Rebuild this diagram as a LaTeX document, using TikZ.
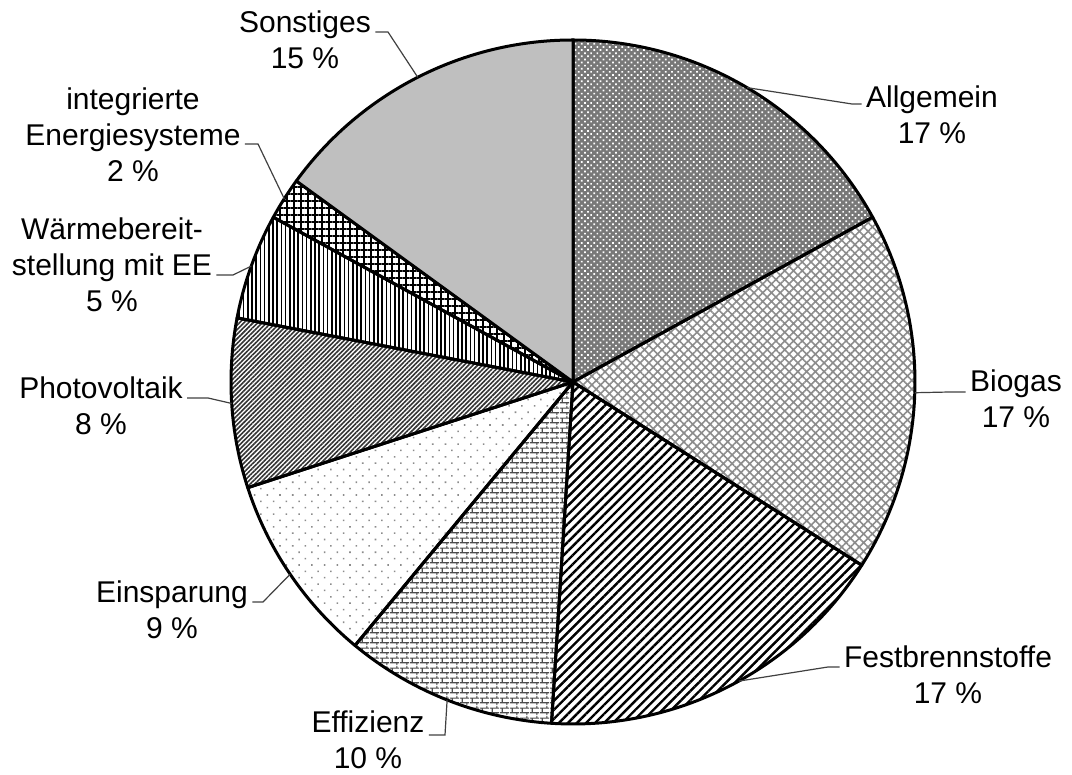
\documentclass[tikz,border=0pt]{standalone}
\usepackage{fontspec}
\setmainfont{Liberation Sans}
\usetikzlibrary{patterns.meta, calc}
\definecolor{grauSonst}{RGB}{191,191,191}
\definecolor{grauAllg}{RGB}{120,120,120}
\tikzdeclarepattern{
  name=ziegel,
  type=uncolored,
  bottom left={(0pt,0pt)},
  top right={(5pt,5pt)},
  tile size={(5pt,5pt)},
  code={
    \draw[line width=0.6pt] (0pt,1.25pt) -- (5pt,1.25pt) (0pt,3.75pt) -- (5pt,3.75pt)
      (1.25pt,1.25pt) -- (1.25pt,3.75pt) (3.75pt,3.75pt) -- (3.75pt,5pt)
      (3.75pt,0pt) -- (3.75pt,1.25pt);
  }
}
\tikzset{
  pie/slice/.style={draw=black, line width=1.5pt, line join=round},
  pie/allg/.style={preaction={fill=grauAllg},
    pattern={Dots[distance=2.2pt, radius=0.6pt, angle=45]}, pattern color=white},
  pie/biog/.style={pattern={Hatch[angle=45, distance=3.1pt, line width=0.8pt]},
    pattern color=black!45},
  pie/fest/.style={pattern={Lines[angle=45, distance=3.2pt, line width=1.2pt]},
    pattern color=black},
  pie/effz/.style={pattern=ziegel, pattern color=black!70},
  pie/spar/.style={pattern={Dots[distance=4.5pt, radius=0.55pt, angle=45]},
    pattern color=black!45},
  pie/phot/.style={pattern={Lines[angle=45, distance=1.6pt, line width=0.8pt]},
    pattern color=black!80},
  pie/waerm/.style={pattern={Lines[angle=90, distance=2.1pt, line width=0.75pt]},
    pattern color=black},
  pie/integ/.style={pattern={Hatch[angle=0, distance=3.5pt, line width=0.6pt]},
    pattern color=black},
  pie/sonst/.style={fill=grauSonst},
  pie/lbl/.style={font=\fontsize{15}{18}\selectfont, align=center, inner sep=2pt},
  pie/leader/.style={draw=black!75, line width=0.6pt}
}

\begin{document}
\begin{tikzpicture}[x=0.5pt, y=0.5pt]
  \useasboundingbox (0,0) rectangle (1072,775);

  % slices, clockwise from the top
  \begin{scope}[shift={(573,393)}]
    \coordinate (mid) at (0,0);
    \foreach \s/\a/\b in {allg/90/28.8, biog/28.8/-32.4, fest/-32.4/-93.6,
        effz/-93.6/-129.6, spar/-129.6/-162, phot/-162/-190.8,
        waerm/-190.8/-208.8, integ/-208.8/-216, sonst/-216/-270}
      \path[pie/slice, pie/\s] (mid) -- (\a:342)
        arc[start angle=\a, end angle=\b, radius=342] -- cycle;
    % anchor points on the rim
    \coordinate (pAllg)  at (59.4:342);
    \coordinate (pBiog)  at (-1.8:342);
    \coordinate (pFest)  at (-61:342);
    \coordinate (pEffz)  at (-111.6:342);
    \coordinate (pSpar)  at (-145.8:342);
    \coordinate (pPhot)  at (-176.4:342);
    \coordinate (pWaerm) at (-199.8:342);
    \coordinate (pInteg) at (-212.4:342);
    \coordinate (pSonst) at (117:342);
  \end{scope}

  % labels
  \node[pie/lbl] (lAllg)  at (932,660) {Allgemein\\17 \%};
  \node[pie/lbl] (lBiog)  at (1016,376) {Biogas\\17 \%};
  \node[pie/lbl] (lFest)  at (948,100) {Festbrennstoffe\\17 \%};
  \node[pie/lbl] (lEffz)  at (368,35) {Effizienz\\10 \%};
  \node[pie/lbl] (lSpar)  at (172,165) {Einsparung\\9 \%};
  \node[pie/lbl] (lPhot)  at (101,369) {Photovoltaik\\8 \%};
  \node[pie/lbl] (lWaerm) at (112,510) {Wärmebereit-\\stellung mit EE\\5 \%};
  \node[pie/lbl] (lInteg) at (133,640) {integrierte\\Energiesysteme\\2 \%};
  \node[pie/lbl] (lSonst) at (305,735) {Sonstiges\\15 \%};

  % knees of the leader lines
  \coordinate (kAllg)  at (852,671);
  \coordinate (kBiog)  at (950,383);
  \coordinate (kFest)  at (828,108);
  \coordinate (kEffz)  at (445,40);
  \coordinate (kSpar)  at (263,173);
  \coordinate (kPhot)  at (208,377);
  \coordinate (kWaerm) at (233,500);
  \coordinate (kInteg) at (258,631);
  \coordinate (kSonst) at (388,743);

  \draw[pie/leader] (pAllg) -- (kAllg) -- (kAllg -| lAllg.west);
  \draw[pie/leader] (pBiog) -- (kBiog) -- (kBiog -| lBiog.west);
  \draw[pie/leader] (pFest) -- (kFest) -- (kFest -| lFest.west);
  \draw[pie/leader] (pEffz) -- (kEffz) -- (kEffz -| lEffz.east);
  \draw[pie/leader] (pSpar) -- (kSpar) -- (kSpar -| lSpar.east);
  \draw[pie/leader] (pPhot) -- (kPhot) -- (kPhot -| lPhot.east);
  \draw[pie/leader] (pWaerm) -- (kWaerm) -- (kWaerm -| lWaerm.east);
  \draw[pie/leader] (pInteg) -- (kInteg) -- (kInteg -| lInteg.east);
  \draw[pie/leader] (pSonst) -- (kSonst) -- (kSonst -| lSonst.east);
\end{tikzpicture}
\end{document}
